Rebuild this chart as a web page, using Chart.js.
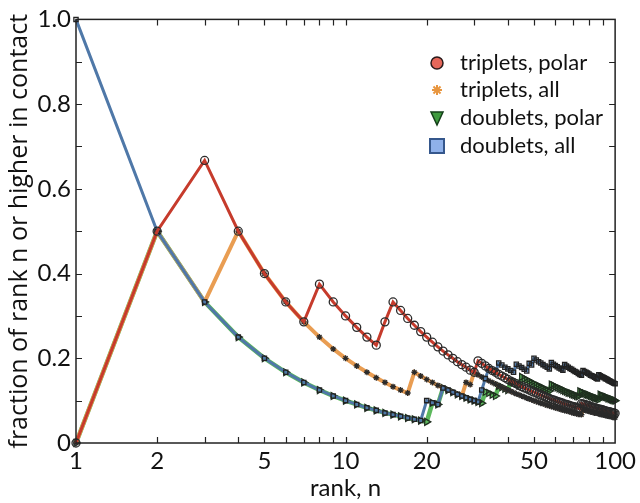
<!DOCTYPE html>
<html>
<head>
<meta charset="utf-8">
<script src="https://cdn.jsdelivr.net/npm/chart.js"></script>
<style>
  html, body { margin: 0; padding: 0; background: #fff; }
  #wrap { width: 640px; height: 503px; }
</style>
</head>
<body>
<div id="wrap"><canvas id="rankChart"></canvas></div>
<script>
// rank n (x axis, log scale)
const ranks = [
  1, 2, 3, 4, 5, 6, 7, 8, 9, 10,
  11, 12, 13, 14, 15, 16, 17, 18, 19, 20,
  21, 22, 23, 24, 25, 26, 27, 28, 29, 30,
  31, 32, 33, 34, 35, 36, 37, 38, 39, 40,
  41, 42, 43, 44, 45, 46, 47, 48, 49, 50,
  51, 52, 53, 54, 55, 56, 57, 58, 59, 60,
  61, 62, 63, 64, 65, 66, 67, 68, 69, 70,
  71, 72, 73, 74, 75, 76, 77, 78, 79, 80,
  81, 82, 83, 84, 85, 86, 87, 88, 89, 90,
  91, 92, 93, 94, 95, 96, 97, 98, 99, 100
];

// fraction of rank n or higher in contact
const tripletsPolar = [
  0, .5, .667, .5, .4, .333, .286, .375, .333, .3,
  .273, .25, .231, .286, .333, .313, .294, .278, .263, .25,
  .238, .227, .217, .208, .2, .192, .185, .179, .172, .167,
  .194, .188, .182, .176, .171, .167, .162, .158, .154, .15,
  .146, .143, .14, .136, .133, .13, .128, .125, .122, .12,
  .118, .115, .113, .111, .109, .107, .105, .103, .102, .1,
  .098, .097, .095, .094, .092, .091, .09, .088, .087, .086,
  .085, .083, .082, .081, .093, .092, .091, .09, .089, .088,
  .086, .085, .084, .083, .082, .081, .08, .08, .079, .078,
  .077, .076, .075, .074, .074, .073, .072, .071, .071, .07
];
const tripletsAll = [
  0, .5, .333, .5, .4, .333, .286, .25, .222, .2,
  .182, .167, .154, .143, .133, .125, .118, .167, .158, .15,
  .143, .136, .13, .125, .12, .115, .111, .143, .138, .167,
  .161, .156, .152, .147, .143, .139, .135, .132, .128, .125,
  .122, .119, .116, .114, .111, .109, .106, .104, .102, .1,
  .098, .096, .094, .093, .091, .089, .088, .086, .085, .083,
  .082, .081, .079, .078, .077, .076, .075, .074, .072, .071,
  .07, .069, .068, .068, .067, .079, .078, .077, .076, .075,
  .074, .073, .072, .071, .071, .07, .069, .068, .067, .067,
  .066, .065, .065, .064, .063, .063, .062, .061, .061, .06
];
const doubletsPolar = [
  0, .5, .333, .25, .2, .167, .143, .125, .111, .1,
  .091, .083, .077, .071, .067, .063, .059, .056, .053, .05,
  .095, .091, .13, .125, .12, .115, .111, .107, .103, .1,
  .097, .094, .121, .118, .114, .111, .135, .132, .128, .125,
  .146, .143, .14, .136, .156, .152, .149, .146, .143, .14,
  .137, .135, .132, .13, .127, .125, .123, .138, .136, .133,
  .131, .129, .127, .125, .123, .121, .119, .118, .116, .114,
  .113, .111, .11, .122, .12, .118, .117, .115, .114, .113,
  .111, .11, .108, .107, .106, .105, .103, .114, .112, .111,
  .11, .109, .108, .106, .105, .104, .103, .102, .101, .1
];
const doubletsAll = [
  1, .5, .333, .25, .2, .167, .143, .125, .111, .1,
  .091, .083, .077, .071, .067, .063, .059, .056, .053, .1,
  .095, .091, .13, .125, .12, .115, .111, .107, .103, .1,
  .097, .125, .152, .176, .171, .167, .189, .184, .179, .175,
  .171, .167, .186, .182, .178, .174, .17, .188, .184, .2,
  .196, .192, .189, .185, .182, .179, .175, .19, .186, .183,
  .18, .177, .175, .172, .185, .182, .179, .176, .174, .171,
  .169, .167, .164, .162, .16, .171, .169, .167, .165, .163,
  .16, .159, .157, .155, .153, .151, .161, .159, .157, .156,
  .154, .152, .151, .149, .147, .146, .144, .143, .141, .14
];

const seriesNames = ['triplets, polar', 'triplets, all', 'doublets, polar', 'doublets, all'];
const xTickLabels = [1, 2, 5, 10, 20, 50, 100];
const xTickMarks = [2, 3, 4, 5, 6, 7, 8, 9, 10, 20, 30, 40, 50, 60, 70, 80, 90];
const yTickMarks = [0.1, 0.2, 0.3, 0.4, 0.5, 0.6, 0.7, 0.8, 0.9];

const FONT = 'Lato, "Open Sans", sans-serif';

function toPoints(values) {
  return ranks.map((n, i) => ({ x: n, y: values[i] }));
}

// frame, inward ticks and the in-plot legend
const framePlugin = {
  id: 'frame',
  afterDraw(chart) {
    const { ctx, chartArea: a } = chart;
    const xs = chart.scales.x, ys = chart.scales.y;
    ctx.save();
    ctx.strokeStyle = '#222';
    ctx.lineWidth = 1.5;
    ctx.strokeRect(a.left, a.top, a.right - a.left, a.bottom - a.top);
    ctx.lineWidth = 1.2;
    ctx.beginPath();
    xTickMarks.forEach(v => {
      const px = Math.round(xs.getPixelForValue(v)) + 0.5;
      ctx.moveTo(px, a.bottom); ctx.lineTo(px, a.bottom - 6);
      ctx.moveTo(px, a.top); ctx.lineTo(px, a.top + 6);
    });
    yTickMarks.forEach(v => {
      const py = Math.round(ys.getPixelForValue(v)) + 0.5;
      ctx.moveTo(a.left, py); ctx.lineTo(a.left + 6, py);
      ctx.moveTo(a.right, py); ctx.lineTo(a.right - 6, py);
    });
    ctx.stroke();

    // legend
    const rowY = [63, 90, 118, 146];
    const mx = 437, tx = 460;
    ctx.font = '22px ' + FONT;
    ctx.textBaseline = 'middle';
    ctx.fillStyle = '#111';
    seriesNames.forEach((name, i) => {
      const y = rowY[i];
      ctx.fillText(name, tx, y);
      ctx.lineWidth = 1.5;
      if (i === 0) {
        ctx.beginPath(); ctx.arc(mx, y, 6, 0, Math.PI * 2);
        ctx.fillStyle = '#e5675a'; ctx.fill();
        ctx.strokeStyle = '#2a1a1a'; ctx.stroke();
      } else if (i === 1) {
        ctx.strokeStyle = '#e8963f'; ctx.lineWidth = 2;
        ctx.beginPath();
        for (let k = 0; k < 4; k++) {
          const ang = k * Math.PI / 4;
          ctx.moveTo(mx - 5 * Math.cos(ang), y - 5 * Math.sin(ang));
          ctx.lineTo(mx + 5 * Math.cos(ang), y + 5 * Math.sin(ang));
        }
        ctx.stroke();
      } else if (i === 2) {
        ctx.beginPath();
        ctx.moveTo(mx - 6, y - 6); ctx.lineTo(mx + 6, y - 6); ctx.lineTo(mx, y + 7);
        ctx.closePath();
        ctx.fillStyle = '#3f9b3f'; ctx.fill();
        ctx.strokeStyle = '#15401a'; ctx.stroke();
      } else {
        ctx.fillStyle = '#8fb1ea';
        ctx.fillRect(mx - 7, y - 7, 14, 14);
        ctx.strokeStyle = '#35578c'; ctx.lineWidth = 2;
        ctx.strokeRect(mx - 7, y - 7, 14, 14);
      }
      ctx.fillStyle = '#111';
    });
    ctx.restore();
  }
};

const ctx = document.getElementById('rankChart').getContext('2d');
new Chart(ctx, {
  type: 'line',
  data: {
    datasets: [
      {
        label: seriesNames[0],
        data: toPoints(tripletsPolar),
        borderColor: '#c63b2c',
        borderWidth: 3,
        pointStyle: 'circle',
        pointRadius: 4,
        pointBorderWidth: 1.3,
        pointBorderColor: '#2b2b2b',
        pointBackgroundColor: 'rgba(0,0,0,0)',
        order: 0
      },
      {
        label: seriesNames[1],
        data: toPoints(tripletsAll),
        borderColor: '#e99d52',
        borderWidth: 4,
        pointStyle: 'star',
        pointRadius: 3,
        pointBorderWidth: 1.3,
        pointBorderColor: '#2b2b2b',
        pointBackgroundColor: '#2b2b2b',
        order: 2
      },
      {
        label: seriesNames[2],
        data: toPoints(doubletsPolar),
        borderColor: '#5cb85c',
        borderWidth: 4.5,
        pointStyle: 'triangle',
        rotation: 90,
        pointRadius: 4,
        pointBorderWidth: 1.3,
        pointBorderColor: '#1f2f1f',
        pointBackgroundColor: 'rgba(0,0,0,0)',
        order: 3
      },
      {
        label: seriesNames[3],
        data: toPoints(doubletsAll),
        borderColor: '#4f78a8',
        borderWidth: 3,
        pointStyle: 'rect',
        pointRadius: 3,
        pointBorderWidth: 1.3,
        pointBorderColor: '#222',
        pointBackgroundColor: 'rgba(0,0,0,0)',
        order: 1
      }
    ]
  },
  options: {
    responsive: true,
    maintainAspectRatio: false,
    animation: false,
    clip: false,
    layout: { padding: { left: 0, top: 17, right: 22, bottom: 0 } },
    elements: { line: { tension: 0 } },
    scales: {
      x: {
        type: 'logarithmic',
        min: 1,
        max: 100,
        afterBuildTicks: scale => { scale.ticks = xTickLabels.map(v => ({ value: v })); },
        afterFit: scale => { scale.height = 60; },
        ticks: {
          autoSkip: false,
          maxRotation: 0,
          padding: 4,
          color: '#111',
          font: { family: FONT, size: 24 },
          callback: v => String(v)
        },
        grid: { display: false, drawTicks: false },
        border: { display: false },
        title: {
          display: true,
          text: 'rank, n',
          color: '#111',
          font: { family: FONT, size: 24 },
          padding: 0
        }
      },
      y: {
        min: 0,
        max: 1,
        afterFit: scale => { scale.width = 76; },
        ticks: {
          stepSize: 0.2,
          padding: 5,
          color: '#111',
          font: { family: FONT, size: 24 },
          callback: v => (v === 0 ? '0' : v.toFixed(1))
        },
        grid: { display: false, drawTicks: false },
        border: { display: false },
        title: {
          display: true,
          text: 'fraction of rank n or higher in contact',
          color: '#111',
          font: { family: '"Open Sans", Lato, sans-serif', size: 25 },
          padding: { top: 5, bottom: 0 }
        }
      }
    },
    plugins: {
      legend: { display: false },
      tooltip: { enabled: false }
    }
  },
  plugins: [framePlugin]
});
</script>
</body>
</html>
